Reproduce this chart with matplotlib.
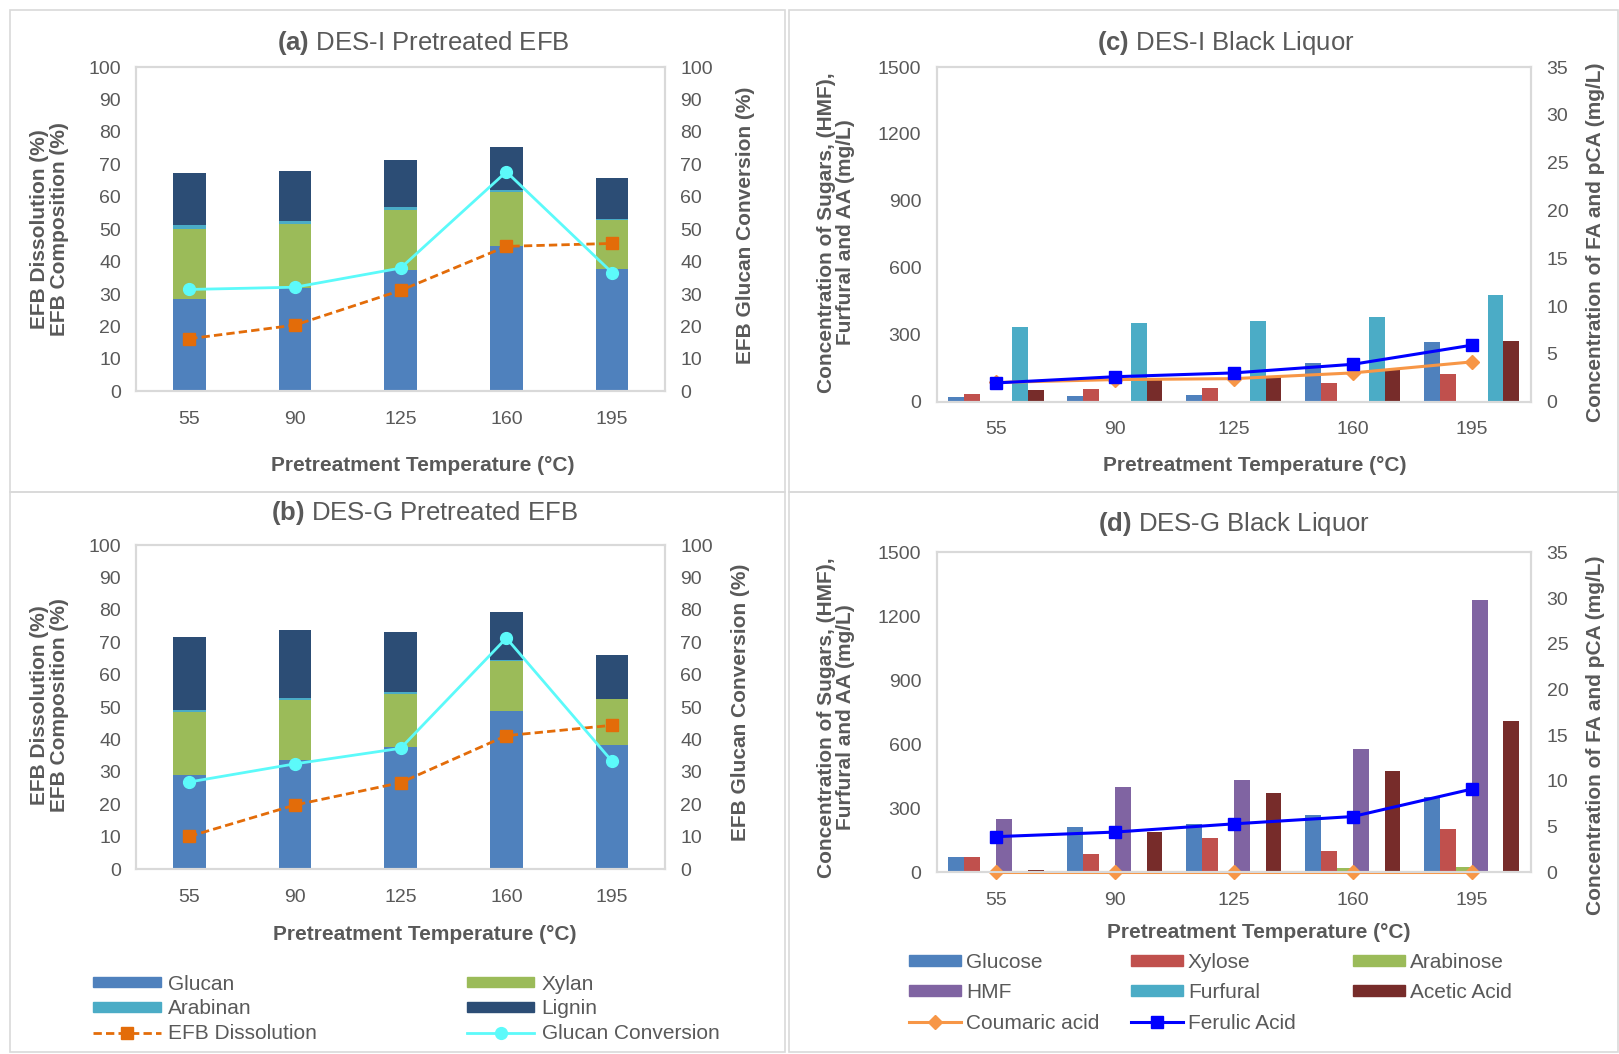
import matplotlib.pyplot as plt
import numpy as np
from matplotlib.patches import Rectangle, Patch
from matplotlib.lines import Line2D

plt.rcParams['font.family'] = ['Liberation Sans', 'DejaVu Sans']
plt.rcParams['mathtext.fontset'] = 'custom'
plt.rcParams['mathtext.rm'] = 'Liberation Sans'
plt.rcParams['mathtext.bf'] = 'Liberation Sans:bold'

temps = ['55', '90', '125', '160', '195']

# (a) DES-I pretreated EFB composition (%)
a_glucan = [28.6, 32.0, 37.5, 44.7, 37.6]
a_xylan = [21.3, 19.5, 18.4, 16.8, 15.1]
a_arabinan = [1.3, 1.1, 0.8, 0.6, 0.4]
a_lignin = [16.0, 15.2, 14.7, 13.2, 12.8]
a_dissolution = [16.2, 20.4, 31.1, 44.7, 45.6]
a_conversion = [31.4, 32.1, 38.0, 67.7, 36.6]

# (b) DES-G pretreated EFB composition (%)
b_glucan = [29.0, 33.8, 37.6, 48.7, 38.2]
b_xylan = [19.4, 18.5, 16.5, 15.5, 14.3]
b_arabinan = [0.8, 0.5, 0.5, 0.3, 0.1]
b_lignin = [22.4, 20.9, 18.7, 14.7, 13.5]
b_dissolution = [10.1, 19.8, 26.7, 41.2, 44.4]
b_conversion = [26.9, 32.5, 37.3, 71.3, 33.3]

# (c) DES-I black liquor (mg/L)
c_glucose = [19, 27, 30, 175, 265]
c_xylose = [33, 58, 60, 82, 123]
c_arabinose = [0, 0, 0, 0, 0]
c_hmf = [0, 0, 0, 0, 0]
c_furfural = [333, 354, 360, 381, 480]
c_acetic = [54, 102, 109, 147, 271]
c_coumaric = [2.0, 2.3, 2.4, 3.0, 4.15]
c_ferulic = [1.95, 2.6, 3.0, 3.9, 5.9]

# (d) DES-G black liquor (mg/L)
d_glucose = [70, 212, 228, 267, 354]
d_xylose = [70, 84, 162, 101, 203]
d_arabinose = [0, 0, 0, 19, 27]
d_hmf = [250, 400, 434, 579, 1278]
d_furfural = [0, 0, 0, 0, 0]
d_acetic = [12, 187, 371, 476, 710]
d_coumaric = [0, 0, 0, 0, 0]
d_ferulic = [3.9, 4.4, 5.3, 6.1, 9.1]

TXT = '#595959'
GRID = '#D9D9D9'
FS_TICK = 14
FS_LAB = 15
FS_LEG = 15
comp_colors = ['#4F81BD', '#9BBB59', '#4BACC6', '#2C4D75']
sug_colors = ['#4F81BD', '#C0504D', '#9BBB59', '#8064A2', '#4BACC6', '#772C2A']

W, H = 1568, 1021  # coordinates measured on the shrunk reference


def box(l, t, r, b):
    return [l / W, 1 - b / H, (r - l) / W, (b - t) / H]


def ftext(x, y, s, **kw):
    fig.text(x / W, 1 - y / H, s, ha='center', va='center', color=TXT, **kw)


fig = plt.figure(figsize=(16.19, 10.54), dpi=100)

# panel frames
for l, t, r, b in [(10, 10, 760, 477), (10, 477, 760, 1019),
                   (764, 10, 1567, 477), (764, 477, 1567, 1019)]:
    fig.patches.append(Rectangle((l / W, 1 - b / H), (r - l) / W, (b - t) / H,
                                 transform=fig.transFigure, fill=False,
                                 edgecolor=GRID, linewidth=1.2))


def style(ax):
    for s in ax.spines.values():
        s.set_color(GRID)
        s.set_linewidth(1.5)
    ax.tick_params(length=0, pad=11, labelsize=FS_TICK, colors=TXT)
    ax.tick_params(axis='x', pad=14)


def comp_panel(rect, parts, diss, conv):
    ax = fig.add_axes(box(*rect))
    x = np.arange(len(temps))
    bottom = np.zeros(len(temps))
    for vals, col in zip(parts, comp_colors):
        ax.bar(x, vals, 0.31, bottom=bottom, color=col, zorder=2)
        bottom += np.array(vals)
    ax.set_xlim(-0.5, 4.5)
    ax.set_ylim(0, 100)
    ax.set_yticks(range(0, 101, 10))
    ax.set_xticks(x)
    ax.set_xticklabels(temps)
    style(ax)
    ax2 = ax.twinx()
    ax2.set_ylim(0, 100)
    ax2.set_yticks(range(0, 101, 10))
    ax2.plot(x, diss, color='#E36C09', linestyle='--', linewidth=2,
             marker='s', markersize=9, dashes=(3, 1.5))
    ax2.plot(x, conv, color='#5CFAFA', linewidth=2, marker='o', markersize=8.5)
    style(ax2)


def liquor_panel(rect, bars, coum, fer):
    ax = fig.add_axes(box(*rect))
    x = np.arange(len(temps))
    w = 0.1333
    for i, (vals, col) in enumerate(zip(bars, sug_colors)):
        ax.bar(x + (i - 2.5) * w, vals, w, color=col, zorder=2)
    ax.set_xlim(-0.5, 4.5)
    ax.set_ylim(0, 1500)
    ax.set_yticks(range(0, 1501, 300))
    ax.set_xticks(x)
    ax.set_xticklabels(temps)
    style(ax)
    ax2 = ax.twinx()
    ax2.set_ylim(0, 35)
    ax2.set_yticks(range(0, 36, 5))
    ax2.plot(x, coum, color='#F79646', linewidth=2.2, marker='D', markersize=7,
             clip_on=False)
    ax2.plot(x, fer, color='#0000FF', linewidth=2.2, marker='s', markersize=9,
             clip_on=False)
    style(ax2)


comp_panel((132, 65, 644, 379), [a_glucan, a_xylan, a_arabinan, a_lignin],
           a_dissolution, a_conversion)
comp_panel((132, 528, 644, 842), [b_glucan, b_xylan, b_arabinan, b_lignin],
           b_dissolution, b_conversion)
liquor_panel((907, 65, 1483, 389),
             [c_glucose, c_xylose, c_arabinose, c_hmf, c_furfural, c_acetic],
             c_coumaric, c_ferulic)
liquor_panel((907, 535, 1483, 845),
             [d_glucose, d_xylose, d_arabinose, d_hmf, d_furfural, d_acetic],
             d_coumaric, d_ferulic)

# titles
ftext(410, 42, r'$\mathbf{(a)}$ DES-I Pretreated EFB', fontsize=18.5)
ftext(411, 497, r'$\mathbf{(b)}$ DES-G Pretreated EFB', fontsize=18.5)
ftext(1187, 42, r'$\mathbf{(c)}$ DES-I Black Liquor', fontsize=18.5)
ftext(1195, 508, r'$\mathbf{(d)}$ DES-G Black Liquor', fontsize=18.5)

# axis labels
xl = 'Pretreatment Temperature (°C)'
for x0, y0 in [(409, 451), (411, 905), (1215, 451), (1219, 903)]:
    ftext(x0, y0, xl, fontsize=FS_LAB, fontweight='bold')
for y0 in [222, 683]:
    ftext(48, y0, 'EFB Dissolution (%)\nEFB Composition (%)', fontsize=FS_LAB,
          fontweight='bold', rotation=90, linespacing=1.1)
ftext(722, 218, 'EFB Glucan Conversion (%)', fontsize=FS_LAB, fontweight='bold', rotation=90)
ftext(717, 680, 'EFB Glucan Conversion (%)', fontsize=FS_LAB, fontweight='bold', rotation=90)
for y0 in [225, 695]:
    ftext(810, y0, 'Concentration of Sugars, (HMF),\nFurfural and AA (mg/L)',
          fontsize=FS_LAB, fontweight='bold', rotation=90, linespacing=1.0)
ftext(1545, 235, 'Concentration of FA and pCA (mg/L)', fontsize=FS_LAB,
      fontweight='bold', rotation=90)
ftext(1545, 712, 'Concentration of FA and pCA (mg/L)', fontsize=FS_LAB,
      fontweight='bold', rotation=90)

# legend for (a)/(b)
comp_handles = [Patch(color=c) for c in comp_colors]
diss_h = Line2D([], [], color='#E36C09', linestyle='--', linewidth=2, marker='s',
                markersize=9, dashes=(3, 1.5))
conv_h = Line2D([], [], color='#5CFAFA', linewidth=2, marker='o', markersize=8.5)
leg_cols = [
    ([comp_handles[0], comp_handles[2], diss_h], ['Glucan', 'Arabinan', 'EFB Dissolution'], 90),
    ([comp_handles[1], comp_handles[3], conv_h], ['Xylan', 'Lignin', 'Glucan Conversion'], 452),
]
for hs, ls, x0 in leg_cols:
    lg = fig.legend(hs, ls, loc='upper left', bbox_to_anchor=(x0 / W, 1 - 944 / H),
                    frameon=False, fontsize=FS_LEG, handlelength=3.25, handleheight=0.42,
                    handletextpad=0.35, labelspacing=0.28, borderpad=0, borderaxespad=0)
    for t in lg.get_texts():
        t.set_color(TXT)

# legend for (c)/(d)
sug_handles = [Patch(color=c) for c in sug_colors]
coum_h = Line2D([], [], color='#F79646', linewidth=2.2, marker='D', markersize=7)
fer_h = Line2D([], [], color='#0000FF', linewidth=2.2, marker='s', markersize=9)
leg_cols = [
    ([sug_handles[0], sug_handles[3], coum_h], ['Glucose', 'HMF', 'Coumaric acid'], 880),
    ([sug_handles[1], sug_handles[4], fer_h], ['Xylose', 'Furfural', 'Ferulic Acid'], 1095),
    ([sug_handles[2], sug_handles[5]], ['Arabinose', 'Acetic Acid'], 1310),
]
for hs, ls, x0 in leg_cols:
    lg = fig.legend(hs, ls, loc='upper left', bbox_to_anchor=(x0 / W, 1 - 923 / H),
                    frameon=False, fontsize=FS_LEG, handlelength=2.5, handleheight=0.42,
                    handletextpad=0.25, labelspacing=0.55, borderpad=0, borderaxespad=0)
    for t in lg.get_texts():
        t.set_color(TXT)

fig.savefig('out.png', dpi=100)
